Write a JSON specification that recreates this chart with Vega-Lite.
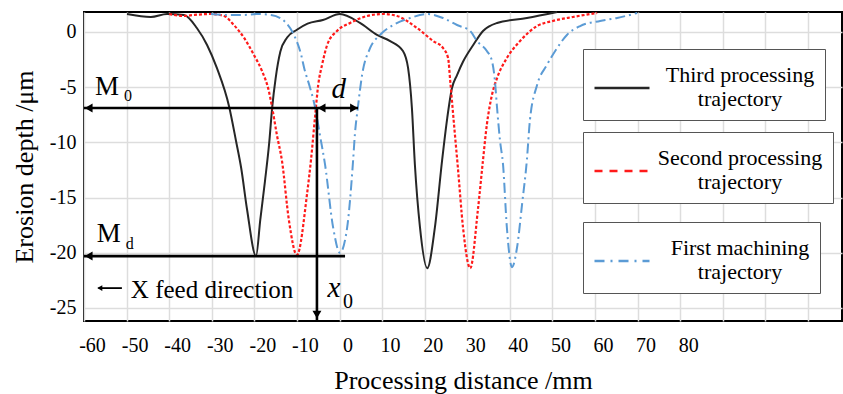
{
  "$schema": "https://vega.github.io/schema/vega-lite/v6.json",
  "width": 758,
  "height": 309,
  "autosize": {"type": "none"},
  "padding": {"left": 84, "top": 12, "right": 1, "bottom": 73},
  "background": "white",
  "config": {
    "view": {"stroke": "black", "strokeWidth": 2},
    "axis": {
      "labelFont": "Liberation Serif, DejaVu Serif",
      "titleFont": "Liberation Serif, DejaVu Serif",
      "labelFontSize": 20,
      "titleFontSize": 26,
      "titleFontWeight": "normal",
      "labelColor": "black",
      "titleColor": "black",
      "domain": false,
      "ticks": false,
      "gridColor": "#dddddd",
      "gridWidth": 1.5
    },
    "legend": {
      "padding": 10,
      "strokeColor": "#555555",
      "fillColor": "white",
      "symbolType": "stroke",
      "symbolSize": 3025,
      "symbolStrokeWidth": 2.5,
      "labelFont": "Liberation Serif, DejaVu Serif",
      "labelFontSize": 22,
      "labelColor": "black",
      "labelAlign": "center",
      "labelBaseline": "line-bottom",
      "labelOffset": 89,
      "labelLimit": 400
    }
  },
  "datasets": {
    "curves": [
      {"s": "third", "x": -49.9, "y": 1.63}, {"s": "third", "x": -44.3, "y": 1.36}, {"s": "third", "x": -40.5, "y": 1.63},
      {"s": "third", "x": -36.5, "y": 1.54}, {"s": "third", "x": -33.5, "y": 0.36}, {"s": "third", "x": -31.1, "y": -1.18},
      {"s": "third", "x": -28.8, "y": -3.26}, {"s": "third", "x": -25.9, "y": -6.79}, {"s": "third", "x": -24.3, "y": -9.87},
      {"s": "third", "x": -23.1, "y": -12.3}, {"s": "third", "x": -21.7, "y": -16.1}, {"s": "third", "x": -19.6, "y": -20.3},
      {"s": "third", "x": -18.6, "y": -17.0}, {"s": "third", "x": -17.5, "y": -13.5}, {"s": "third", "x": -16.5, "y": -10.0},
      {"s": "third", "x": -15.8, "y": -6.8}, {"s": "third", "x": -15.0, "y": -4.2}, {"s": "third", "x": -13.9, "y": -1.8},
      {"s": "third", "x": -12.3, "y": -0.5}, {"s": "third", "x": -10.0, "y": 0.2},
      {"s": "third", "x": -7.5, "y": 0.75}, {"s": "third", "x": -3.9, "y": 1.09},
      {"s": "third", "x": 0.1, "y": 1.63}, {"s": "third", "x": 4.8, "y": 0.82}, {"s": "third", "x": 8.8, "y": -0.27},
      {"s": "third", "x": 11.9, "y": -0.82}, {"s": "third", "x": 14.9, "y": -1.72}, {"s": "third", "x": 16.1, "y": -3.26},
      {"s": "third", "x": 17.0, "y": -6.88}, {"s": "third", "x": 17.7, "y": -12.0}, {"s": "third", "x": 18.9, "y": -17.7},
      {"s": "third", "x": 20.6, "y": -21.4}, {"s": "third", "x": 22.4, "y": -17.7}, {"s": "third", "x": 24.1, "y": -11.6},
      {"s": "third", "x": 25.3, "y": -7.8}, {"s": "third", "x": 26.4, "y": -5.1}, {"s": "third", "x": 27.6, "y": -3.9},
      {"s": "third", "x": 29.0, "y": -2.7}, {"s": "third", "x": 31.4, "y": -1.18}, {"s": "third", "x": 33.7, "y": 0.09},
      {"s": "third", "x": 37.0, "y": 0.82}, {"s": "third", "x": 44.0, "y": 1.27}, {"s": "third", "x": 51.1, "y": 1.81},

      {"s": "second", "x": -40.0, "y": 1.63}, {"s": "second", "x": -36.5, "y": 1.45}, {"s": "second", "x": -34.2, "y": 1.54},
      {"s": "second", "x": -30.2, "y": 1.63}, {"s": "second", "x": -27.1, "y": 1.45}, {"s": "second", "x": -24.8, "y": 0.63},
      {"s": "second", "x": -22.4, "y": -0.54}, {"s": "second", "x": -20.1, "y": -2.08}, {"s": "second", "x": -18.2, "y": -3.53},
      {"s": "second", "x": -16.6, "y": -5.34}, {"s": "second", "x": -15.8, "y": -6.88}, {"s": "second", "x": -14.7, "y": -9.33},
      {"s": "second", "x": -13.5, "y": -11.7}, {"s": "second", "x": -11.9, "y": -17.0}, {"s": "second", "x": -10.0, "y": -20.2},
      {"s": "second", "x": -7.6, "y": -14.6}, {"s": "second", "x": -6.7, "y": -11.6}, {"s": "second", "x": -5.7, "y": -7.5},
      {"s": "second", "x": -5.0, "y": -4.8}, {"s": "second", "x": -4.1, "y": -2.99}, {"s": "second", "x": -2.9, "y": -1.18},
      {"s": "second", "x": -0.6, "y": 0.09}, {"s": "second", "x": 2.5, "y": 0.82}, {"s": "second", "x": 6.5, "y": 1.45},
      {"s": "second", "x": 10.2, "y": 1.63}, {"s": "second", "x": 13.5, "y": 1.45}, {"s": "second", "x": 18.2, "y": 0.36},
      {"s": "second", "x": 22.0, "y": -0.82}, {"s": "second", "x": 24.3, "y": -1.45}, {"s": "second", "x": 25.5, "y": -2.36},
      {"s": "second", "x": 26.0, "y": -4.44}, {"s": "second", "x": 26.9, "y": -8.42}, {"s": "second", "x": 27.8, "y": -12.3},
      {"s": "second", "x": 29.0, "y": -17.7}, {"s": "second", "x": 30.7, "y": -21.4}, {"s": "second", "x": 32.5, "y": -16.1},
      {"s": "second", "x": 33.7, "y": -11.6}, {"s": "second", "x": 34.6, "y": -8.4}, {"s": "second", "x": 35.8, "y": -5.7},
      {"s": "second", "x": 37.0, "y": -4.17}, {"s": "second", "x": 39.3, "y": -2.36}, {"s": "second", "x": 42.4, "y": -0.82},
      {"s": "second", "x": 46.4, "y": 0.54}, {"s": "second", "x": 50.1, "y": 1.0}, {"s": "second", "x": 54.8, "y": 1.36},
      {"s": "second", "x": 60.5, "y": 1.72},

      {"s": "first", "x": -30.2, "y": 1.63}, {"s": "first", "x": -26.4, "y": 1.54}, {"s": "first", "x": -22.4, "y": 1.54},
      {"s": "first", "x": -19.4, "y": 1.63}, {"s": "first", "x": -16.1, "y": 1.54}, {"s": "first", "x": -13.0, "y": 1.0},
      {"s": "first", "x": -10.7, "y": -0.27}, {"s": "first", "x": -9.0, "y": -2.08}, {"s": "first", "x": -8.3, "y": -3.26},
      {"s": "first", "x": -6.9, "y": -5.07}, {"s": "first", "x": -5.7, "y": -6.88}, {"s": "first", "x": -4.6, "y": -9.33},
      {"s": "first", "x": -3.4, "y": -12.0}, {"s": "first", "x": -1.5, "y": -17.7}, {"s": "first", "x": 0.1, "y": -20.0},
      {"s": "first", "x": 1.8, "y": -17.7}, {"s": "first", "x": 3.2, "y": -11.6}, {"s": "first", "x": 3.6, "y": -9.33},
      {"s": "first", "x": 4.3, "y": -6.88}, {"s": "first", "x": 5.3, "y": -3.9}, {"s": "first", "x": 7.2, "y": -1.45},
      {"s": "first", "x": 9.5, "y": -0.27}, {"s": "first", "x": 12.6, "y": 0.63}, {"s": "first", "x": 16.6, "y": 1.27},
      {"s": "first", "x": 20.6, "y": 1.63}, {"s": "first", "x": 24.3, "y": 1.27}, {"s": "first", "x": 27.6, "y": 0.63},
      {"s": "first", "x": 30.7, "y": 0.09}, {"s": "first", "x": 32.3, "y": -0.82}, {"s": "first", "x": 34.6, "y": -1.72},
      {"s": "first", "x": 35.8, "y": -2.63}, {"s": "first", "x": 36.5, "y": -4.44}, {"s": "first", "x": 37.0, "y": -6.88},
      {"s": "first", "x": 37.7, "y": -9.87}, {"s": "first", "x": 38.4, "y": -12.0}, {"s": "first", "x": 39.3, "y": -17.7},
      {"s": "first", "x": 40.5, "y": -21.3}, {"s": "first", "x": 41.7, "y": -19.5}, {"s": "first", "x": 42.9, "y": -15.5},
      {"s": "first", "x": 44.0, "y": -11.6}, {"s": "first", "x": 44.7, "y": -8.06}, {"s": "first", "x": 46.4, "y": -4.8},
      {"s": "first", "x": 48.7, "y": -2.99}, {"s": "first", "x": 51.1, "y": -1.45}, {"s": "first", "x": 53.4, "y": -0.27},
      {"s": "first", "x": 56.5, "y": 0.54}, {"s": "first", "x": 61.2, "y": 1.0}, {"s": "first", "x": 65.2, "y": 1.27},
      {"s": "first", "x": 69.9, "y": 1.72}
    ],
    "rules": [
      {"x": -60, "x2": 4.35, "y": -6.88, "y2": -6.88},
      {"x": -5.3, "x2": -5.3, "y": -6.88, "y2": -26.1},
      {"x": -60, "x2": 1.3, "y": -20.3, "y2": -20.3}
    ],
    "smallrule": [
      {"x": -56.6, "x2": -51.1, "y": -23.2, "y2": -23.2}
    ],
    "heads": [
      {"x": -58.9, "y": -6.88, "dir": "left"},
      {"x": -4.2, "y": -6.88, "dir": "left"},
      {"x": 3.4, "y": -6.88, "dir": "right"},
      {"x": -5.3, "y": -25.6, "dir": "down"},
      {"x": -58.9, "y": -20.3, "dir": "left"}
    ],
    "smallhead": [
      {"x": -56.3, "y": -23.2, "dir": "left"}
    ],
    "bigtext": [
      {"x": -57.4, "y": -5.7, "t": "M"},
      {"x": -57.0, "y": -19.0, "t": "M"}
    ],
    "subtext": [
      {"x": -50.6, "y": -6.25, "t": "0"},
      {"x": -50.2, "y": -19.66, "t": "d"}
    ],
    "sub2text": [
      {"x": 0.8, "y": -25.0, "t": "0"}
    ],
    "italic": [
      {"x": -1.9, "y": -5.98, "t": "d"},
      {"x": -2.8, "y": -24.0, "t": "x"}
    ],
    "feed": [
      {"x": -49.0, "y": -24.1, "t": "X feed direction"}
    ]
  },
  "encoding": {
    "x": {
      "field": "x",
      "type": "quantitative",
      "scale": {"domain": [-60, 118], "nice": false, "zero": false},
      "axis": {
        "title": "Processing distance /mm",
        "values": [-60, -50, -40, -30, -20, -10, 0, 10, 20, 30, 40, 50, 60, 70, 80, 90, 100, 110],
        "labelExpr": "datum.value <= 80 ? (datum.value < 0 ? '-' : '') + abs(datum.value) : ''",
        "labelPadding": 14,
        "labelOffset": 8,
        "labelFlush": false,
        "titlePadding": 12
      }
    },
    "y": {
      "field": "y",
      "type": "quantitative",
      "scale": {"domain": [-26.18, 1.81], "nice": false, "zero": false},
      "axis": {
        "title": "Erosion depth /μm",
        "values": [0, -5, -10, -15, -20, -25],
        "labelExpr": "(datum.value < 0 ? '-' : '') + abs(datum.value)",
        "labelPadding": 8,
        "titlePadding": 12
      }
    }
  },
  "layer": [
    {
      "data": {"name": "curves"},
      "transform": [{"filter": "datum.s == 'third'"}],
      "mark": {"type": "line", "strokeWidth": 2, "interpolate": "monotone"},
      "encoding": {
        "color": {
          "field": "s", "type": "nominal",
          "scale": {"domain": ["third"], "range": ["#262626"]},
          "legend": {"orient": "none", "legendX": 499, "legendY": 37, "title": null,
                     "labelExpr": "['Third processing', 'trajectory']"}
        }
      }
    },
    {
      "data": {"name": "curves"},
      "transform": [{"filter": "datum.s == 'second'"}],
      "mark": {"type": "line", "strokeWidth": 2.2, "interpolate": "monotone", "strokeDash": [3, 2]},
      "encoding": {
        "color": {
          "field": "s", "type": "nominal",
          "scale": {"domain": ["second"], "range": ["#ff1a1a"]},
          "legend": {"orient": "none", "legendX": 499, "legendY": 120, "title": null,
                     "symbolDash": [8, 7],
                     "labelExpr": "['Second processing', 'trajectory']"}
        }
      }
    },
    {
      "data": {"name": "curves"},
      "transform": [{"filter": "datum.s == 'first'"}],
      "mark": {"type": "line", "strokeWidth": 2, "interpolate": "monotone", "strokeDash": [10, 4, 2, 4]},
      "encoding": {
        "color": {
          "field": "s", "type": "nominal",
          "scale": {"domain": ["first"], "range": ["#5b9bd5"]},
          "legend": {"orient": "none", "legendX": 499, "legendY": 210, "title": null,
                     "symbolDash": [10, 6, 2, 6],
                     "labelExpr": "['First machining', 'trajectory']"}
        }
      }
    },
    {
      "data": {"name": "rules"},
      "mark": {"type": "rule", "strokeWidth": 2.6, "color": "black"},
      "encoding": {"x2": {"field": "x2"}, "y2": {"field": "y2"}}
    },
    {
      "data": {"name": "smallrule"},
      "mark": {"type": "rule", "strokeWidth": 1.8, "color": "black"},
      "encoding": {"x2": {"field": "x2"}, "y2": {"field": "y2"}}
    },
    {
      "data": {"name": "heads"},
      "mark": {"type": "point", "filled": true, "color": "black", "opacity": 1, "size": 80},
      "encoding": {
        "shape": {"field": "dir", "type": "nominal",
                  "scale": {"domain": ["left", "right", "down"], "range": ["triangle-left", "triangle-right", "triangle-down"]},
                  "legend": null}
      }
    },
    {
      "data": {"name": "smallhead"},
      "mark": {"type": "point", "filled": true, "color": "black", "opacity": 1, "size": 35, "shape": "triangle-left"},
      "encoding": {}
    },
    {
      "data": {"name": "bigtext"},
      "mark": {"type": "text", "font": "Liberation Serif, DejaVu Serif", "fontSize": 27, "align": "left", "baseline": "alphabetic", "color": "black"},
      "encoding": {"text": {"field": "t"}}
    },
    {
      "data": {"name": "subtext"},
      "mark": {"type": "text", "font": "Liberation Serif, DejaVu Serif", "fontSize": 16, "align": "left", "baseline": "alphabetic", "color": "black"},
      "encoding": {"text": {"field": "t"}}
    },
    {
      "data": {"name": "sub2text"},
      "mark": {"type": "text", "font": "Liberation Serif, DejaVu Serif", "fontSize": 20, "align": "left", "baseline": "alphabetic", "color": "black"},
      "encoding": {"text": {"field": "t"}}
    },
    {
      "data": {"name": "italic"},
      "mark": {"type": "text", "font": "Liberation Serif, DejaVu Serif", "fontSize": 29, "fontStyle": "italic", "align": "left", "baseline": "alphabetic", "color": "black"},
      "encoding": {"text": {"field": "t"}}
    },
    {
      "data": {"name": "feed"},
      "mark": {"type": "text", "font": "Liberation Serif, DejaVu Serif", "fontSize": 25, "align": "left", "baseline": "alphabetic", "color": "black"},
      "encoding": {"text": {"field": "t"}}
    }
  ],
  "resolve": {"scale": {"color": "independent"}, "legend": {"color": "independent"}}
}
